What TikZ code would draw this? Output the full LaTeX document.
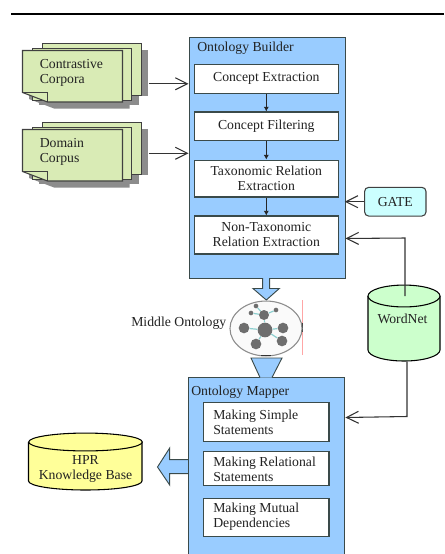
\documentclass[tikz,border=0pt]{standalone}
\usepackage{fontspec}
\setmainfont{Liberation Serif}
\usetikzlibrary{arrows.meta,calc,shapes.geometric}
\definecolor{panelblue}{HTML}{99CCFF}
\definecolor{pagegreen}{HTML}{D9EBB5}
\definecolor{linegray}{HTML}{3A4A4A}
\definecolor{inktext}{HTML}{222222}
\definecolor{gatecyan}{HTML}{CCFFFF}
\definecolor{wordgreen}{HTML}{CCFFCC}
\definecolor{hpryellow}{HTML}{FFFF99}
\definecolor{shadowgray}{HTML}{8C8C8C}
\definecolor{linkteal}{HTML}{8CCFCF}
\definecolor{blobgray}{HTML}{6E6E6E}
\tikzset{
  panel/.style={draw=linegray,fill=panelblue,line width=.8pt,inner sep=0pt},
  stepbox/.style={draw=linegray,fill=white,line width=.8pt,inner sep=0pt,align=center,text=inktext,font=\fontsize{10.3}{11.25}\selectfont},
  label/.style={inner sep=0pt,text=inktext,font=\fontsize{10.3}{11.25}\selectfont},
  page/.style={draw=black!75,fill=pagegreen,line width=.8pt,inner sep=0pt,minimum width=74.5pt,minimum height=39pt},
  arr/.style={draw=black!80,line width=.8pt,-{Straight Barb[length=9pt,width=9pt,line width=.8pt]}},
  thin arr/.style={draw=black!85,line width=.7pt,-{Latex[length=3.5pt,width=4pt]}},
  block/.style={fill=panelblue,draw=linegray,line width=.7pt},
  blob/.style={circle,fill=blobgray,inner sep=0pt},
  link/.style={draw=linkteal,line width=.9pt},
}
\begin{document}
\begin{tikzpicture}[x=.75pt,y=-.75pt]
\useasboundingbox (0,0) rectangle (444,554);
\fill[white] (0,0) rectangle (444,554);
\draw[black,line width=1.6pt] (11,14) -- (444,14);

% panels
\node[panel,anchor=north west,minimum width=117pt,minimum height=180.5pt] (builder) at (188.5,37) {};
\node[panel,anchor=north west,minimum width=117.4pt,minimum height=145pt] (mapper) at (187.8,377) {};

% document stacks
\foreach \n/\dy in {c/0,d/79}{
  \fill[shadowgray] (48.5,50+\dy) rectangle (147.5,96+\dy);
  \fill[shadowgray] (39,56+\dy) rectangle (138.5,105+\dy);
  \fill[shadowgray] (29,60+\dy) -- (129.5,60+\dy) -- (129.5,108.5+\dy) -- (54,108.5+\dy) -- (29,99+\dy) -- cycle;
  \node[page,anchor=north west] (\n3) at (41.5,42.5+\dy) {};
  \node[page,anchor=north west] (\n2) at (32,47.5+\dy) {};
  \draw[draw=black!75,fill=pagegreen,line width=.8pt] (22.5,50.5+\dy) -- (122.5,50.5+\dy) -- (122.5,102+\dy) -- (47.5,102+\dy) -- (22.5,92.5+\dy) -- cycle;
  \draw[draw=black!75,line width=.8pt] (22.5,92.5+\dy) -- (47.5,92.5+\dy) -- (47.5,102+\dy);
}
\node[label,anchor=north west,align=left] (ctext) at (39.5,59) {Contrastive\\Corpora};
\node[label,anchor=north west,align=left] (dtext) at (39.5,138) {Domain\\Corpus};
\draw[arr] ([shift={(7,14.75)}]c3.east) coordinate (ca) -- (ca -| builder.west);
\draw[arr] ([shift={(7,5.25)}]d3.east) coordinate (da) -- (da -| builder.west);

% builder
\node[label,anchor=west] (btitle) at (197,48) {Ontology Builder};
\node[stepbox,minimum width=108pt,minimum height=21.5pt] (s1) at (266.3,78.7) {Concept Extraction};
\node[stepbox,minimum width=108pt,minimum height=21.5pt] (s2) at (266.3,126.3) {Concept Filtering};
\node[stepbox,minimum width=108pt,minimum height=27.7pt] (s3) at (266.3,178.5) {Taxonomic Relation\\Extraction};
\node[stepbox,minimum width=108pt,minimum height=28.5pt] (s4) at (266.3,235) {Non-Taxonomic\\Relation Extraction};
\draw[thin arr] (s1) -- (s2);
\draw[thin arr] (s2) -- (s3);
\draw[thin arr] (s3) -- (s4);

% GATE
\node[draw=black!75,fill=gatecyan,line width=.8pt,rounded corners=3pt,minimum width=46pt,minimum height=21.5pt,inner sep=0pt,text=inktext,font=\fontsize{10.3}{11.25}\selectfont] (gate) at (395.3,201.7) {GATE};
\draw[arr] (gate.west) -- ([xshift=-14.5pt]gate.west);

% WordNet
\draw[draw=black,fill=wordgreen,line width=.8pt] (368,296) -- (368,350) .. controls (368,356) and (384,361) .. (404,361) .. controls (424,361) and (440,356) .. (440,350) -- (440,296);
\draw[draw=black,fill=wordgreen,line width=.8pt] (404,296) ellipse [x radius=27pt,y radius=8.2pt];
\node[inner sep=0pt,minimum width=54pt,minimum height=57pt] (wordnet) at (404,323) {};
\node[label] (wtext) at (402.5,318.5) {WordNet};
\draw[arr] ($(wordnet.center)+(1,-27)$) coordinate (wtop) -- (wtop |- 0,238) -- (345.5,238.5);
\draw[arr] (wordnet.south) ++(3,0) coordinate (wbot) -- (wbot |- 0,416.5) -- (mapper.east |- 0,417.5);

% block arrow builder to ontology
\draw[block] (262.7,278) -- (262.7,288.5) -- (253,288.5) -- (266.3,300) -- (279.3,288.5) -- (269.7,288.5) -- (269.7,278);

% Middle ontology
\node[label,anchor=west] (mtext) at (131,323) {Middle Ontology};
\draw[red!35,line width=.8pt] (302.3,300) -- (302.3,355);
\draw[black!75,line width=1pt] (302.3,323) -- (302.3,332);
\node[draw=black!45,line width=.8pt,ellipse,fill=black!2,minimum width=54pt,minimum height=41.2pt,inner sep=0pt] (onto) at (266,328.5) {};
\draw[black!80,line width=1pt] (261,355.7) -- (271,355.7);
\node[blob,minimum size=11pt] (o0) at (265,330) {};
\node[blob,minimum size=8pt] (o1) at (244,328) {};
\node[blob,minimum size=8pt] (o2) at (283,328) {};
\node[blob,minimum size=8pt] (o3) at (256,344) {};
\node[blob,minimum size=8pt] (o4) at (282,341) {};
\node[blob,minimum size=7.5pt] (o5) at (264,315) {};
\node[blob,minimum size=3.5pt] (o6) at (251,313) {};
\node[blob,minimum size=3.5pt] (o7) at (256,306) {};
\node[blob,minimum size=3.5pt] (o8) at (276,310) {};
\draw[link] (o0) -- (o1);
\draw[link] (o0) -- (o2);
\draw[link] (o0) -- (o3);
\draw[link] (o0) -- (o4);
\draw[link] (o0) -- (o5);
\draw[link] (o5) -- (o6);
\draw[link] (o5) -- (o7);
\draw[link] (o5) -- (o8);

% block arrow ontology to mapper
\draw[block] (260,377.5) -- (251,358) -- (282,358) -- (272,377.5);

% mapper
\node[label,anchor=west] (mtitle) at (191,392) {Ontology Mapper};
\node[stepbox,minimum width=94pt,minimum height=28.7pt] (m1) at (266.3,422) {};
\node[stepbox,minimum width=94pt,minimum height=26pt] (m2) at (266.3,468.5) {};
\node[stepbox,minimum width=94pt,minimum height=28pt] (m3) at (266.3,517.5) {};
\node[label,anchor=west,align=left] (m1t) at (213,422) {Making Simple\\Statements};
\node[label,anchor=west,align=left] (m2t) at (213,469) {Making Relational\\Statements};
\node[label,anchor=west,align=left] (m3t) at (213,517) {Making Mutual\\Dependencies};

% block arrow mapper to HPR
\draw[block] (187.8,459.7) -- (169.7,459.7) -- (169.7,448) -- (157.5,467) -- (169.7,485) -- (169.7,473.7) -- (187.8,473.7);

% HPR
\draw[draw=black,fill=hpryellow,line width=.8pt] (28.5,442) -- (28.5,481) .. controls (28.5,486) and (54,490) .. (85.5,490) .. controls (117,490) and (142,486) .. (142,481) -- (142,442);
\draw[draw=black,fill=hpryellow,line width=.8pt] (85.5,442) ellipse [x radius=42.6pt,y radius=6.7pt];
\node[label,align=center] (hpr) at (85.5,469) {HPR\\Knowledge Base};
\end{tikzpicture}
\end{document}
